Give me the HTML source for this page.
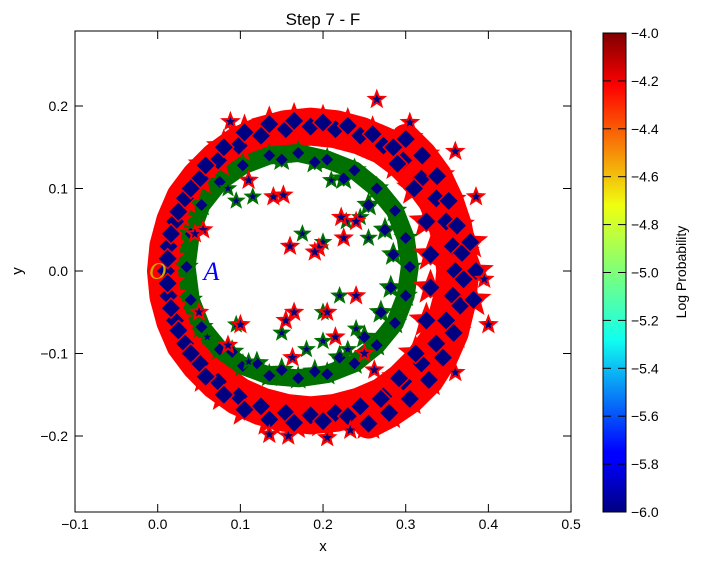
<!DOCTYPE html>
<html><head><meta charset="utf-8"><style>
body{margin:0;background:#fff;}
svg{display:block;font-family:"Liberation Sans",sans-serif;}
</style></head><body>
<svg id="chart" width="701" height="564">
<defs>
<linearGradient id="jet" x1="0" y1="1" x2="0" y2="0">
<stop offset="0" stop-color="#000080"/><stop offset="0.11" stop-color="#0000ff"/><stop offset="0.125" stop-color="#0000ff"/>
<stop offset="0.36" stop-color="#10ffef"/><stop offset="0.5" stop-color="#7dff7a"/><stop offset="0.64" stop-color="#efff0f"/>
<stop offset="0.89" stop-color="#ff0000"/><stop offset="1" stop-color="#800000"/>
</linearGradient>
<clipPath id="clip"><rect x="75" y="31" width="496" height="481"/></clipPath>
</defs>
<rect x="0" y="0" width="701" height="564" fill="#fff"/>
<text x="323" y="25" font-size="17" text-anchor="middle">Step 7 - F</text>
<g id="marks" clip-path="url(#clip)"></g>
<rect x="75" y="31" width="496" height="481" fill="none" stroke="#000" stroke-width="1"/>
<g id="axes"></g>
<text x="323" y="551" font-size="15" text-anchor="middle">x</text>
<text x="22" y="271" font-size="15" text-anchor="middle" transform="rotate(-90 22 271)">y</text>
<rect x="603" y="33" width="23" height="479" fill="url(#jet)" stroke="#000"/>
<g id="cbar"></g>
<text x="686" y="272" font-size="14" text-anchor="middle" transform="rotate(-90 686 272)">Log Probability</text>
</svg>
<script>
const xTicks=[-0.1,0,0.1,0.2,0.3,0.4,0.5];
const xTickLabels=["\u22120.1","0.0","0.1","0.2","0.3","0.4","0.5"];
const yTicks=[-0.2,-0.1,0,0.1,0.2];
const yTickLabels=["\u22120.2","\u22120.1","0.0","0.1","0.2"];
const cbTicks=[-6.0,-5.8,-5.6,-5.4,-5.2,-5.0,-4.8,-4.6,-4.4,-4.2,-4.0];
const outerRing=[[0.360,0.000],[0.357,0.030],[0.349,0.060],[0.337,0.088],[0.319,0.112],[0.297,0.134],[0.273,0.152],[0.245,0.164],[0.215,0.172],[0.185,0.175],[0.155,0.172],[0.125,0.164],[0.098,0.152],[0.073,0.134],[0.051,0.112],[0.033,0.088],[0.021,0.060],[0.013,0.030],[0.010,0.000],[0.013,-0.030],[0.021,-0.060],[0.033,-0.088],[0.051,-0.112],[0.073,-0.134],[0.098,-0.152],[0.125,-0.164],[0.155,-0.172],[0.185,-0.175],[0.215,-0.172],[0.245,-0.164],[0.273,-0.152],[0.297,-0.134],[0.319,-0.112],[0.337,-0.088],[0.349,-0.060],[0.357,-0.030],
[0.165,0.182],[0.135,0.178],[0.105,0.168],[0.080,0.150],[0.058,0.128],[0.040,0.100],[0.025,0.072],[0.016,0.045],[0.012,0.015],[0.012,-0.015],[0.016,-0.045],[0.025,-0.072],[0.040,-0.100],[0.058,-0.128],[0.080,-0.150],[0.105,-0.168],[0.135,-0.180],[0.165,-0.184],[0.200,-0.182],[0.230,-0.176],[0.200,0.180],[0.230,0.176],[0.260,0.166],[0.285,0.150]];
const rightBand=[[0.300,0.160],[0.320,0.140],[0.338,0.115],[0.352,0.085],[0.362,0.055],[0.368,0.022],[0.370,-0.010],[0.366,-0.042],[0.358,-0.075],[0.345,-0.105],[0.328,-0.132],[0.305,-0.155],[0.280,-0.172],[0.255,-0.185],[0.290,0.130],[0.310,0.100],[0.325,0.060],[0.330,0.020],[0.330,-0.020],[0.325,-0.060],[0.312,-0.100],[0.292,-0.130],[0.270,-0.155],[0.385,0.000],[0.382,-0.035],[0.378,0.035]];
const greenRing=[[0.305,0.005],[0.300,0.040],[0.287,0.073],[0.265,0.100],[0.238,0.122],[0.205,0.135],[0.170,0.143],[0.135,0.140],[0.103,0.128],[0.075,0.108],[0.053,0.080],[0.040,0.045],[0.035,0.005],[0.040,-0.035],[0.053,-0.068],[0.075,-0.095],[0.103,-0.115],[0.135,-0.127],[0.170,-0.130],[0.205,-0.125],[0.238,-0.112],[0.265,-0.090],[0.287,-0.063],[0.300,-0.030],[0.285,0.020],[0.282,-0.020],[0.275,0.050],[0.270,-0.050],[0.255,0.080],[0.250,-0.080],[0.225,0.112],[0.220,-0.105],[0.190,0.132],[0.150,0.135],[0.150,-0.120],[0.190,-0.122],[0.120,-0.112],[0.090,-0.098]];
const greenStars=[[0.085,0.100],[0.095,0.085],[0.115,0.090],[0.160,0.030],[0.175,0.045],[0.200,0.035],[0.228,0.060],[0.245,0.065],[0.220,-0.030],[0.200,-0.050],[0.240,-0.070],[0.230,-0.095],[0.180,-0.095],[0.150,-0.075],[0.110,-0.110],[0.200,-0.085],[0.095,-0.065],[0.060,-0.080],[0.210,0.110],[0.255,0.040]];
const redStars=[[0.140,0.090],[0.152,0.092],[0.110,0.110],[0.055,0.050],[0.045,0.045],[0.160,0.030],[0.195,0.028],[0.190,0.023],[0.222,0.065],[0.240,0.060],[0.225,0.040],[0.165,-0.050],[0.155,-0.060],[0.100,-0.065],[0.050,-0.050],[0.085,-0.090],[0.205,-0.050],[0.240,-0.030],[0.215,-0.080],[0.262,-0.120],[0.250,-0.100],[0.163,-0.105],[0.265,0.208],[0.400,-0.065],[0.360,-0.123],[0.385,0.090],[0.360,0.145],[0.088,0.181],[0.205,-0.202],[0.135,-0.198],[0.158,-0.200],[0.233,-0.193],[0.395,-0.010],[0.305,0.180]];
const cx=v=>157.7+v*826.7, cy=v=>271-v*825;
const NS="http://www.w3.org/2000/svg";
const marks=document.getElementById('marks'), axes=document.getElementById('axes'), cbar=document.getElementById('cbar');
function band(pts,w,color,name,closed){const d=pts.map((p,i)=>(i?"L":"M")+cx(p[0]).toFixed(1)+" "+cy(p[1]).toFixed(1)).join("")+(closed?"Z":"");const e=document.createElementNS(NS,'path');e.setAttribute('d',d);e.setAttribute('fill','none');e.setAttribute('stroke',color);e.setAttribute('stroke-width',w);e.setAttribute('stroke-linejoin','round');e.setAttribute('stroke-linecap','round');


marks.appendChild(e);}
function starPath(x,y,r){let d="";for(let i=0;i<10;i++){const a=-Math.PI/2+i*Math.PI/5;const rr=i%2?r*0.42:r;d+=(i?"L":"M")+(x+rr*Math.cos(a)).toFixed(1)+" "+(y+rr*Math.sin(a)).toFixed(1);}return d+"Z";}
function star(p,r,edge,fill,name){const e=document.createElementNS(NS,'path');e.setAttribute('d',starPath(cx(p[0]),cy(p[1]),r));e.setAttribute('fill',fill);e.setAttribute('stroke',edge);e.setAttribute('stroke-width','2');


marks.appendChild(e);}
function diamond(p,s,edge,name){const x=cx(p[0]),y=cy(p[1]);const e=document.createElementNS(NS,'path');e.setAttribute('d',`M${x} ${y-s}L${x+s} ${y}L${x} ${y+s}L${x-s} ${y}Z`);e.setAttribute('fill','#000080');e.setAttribute('stroke',edge);e.setAttribute('stroke-width','1.5');


marks.appendChild(e);}
band(outerRing.slice(0,36),38,'#ff0000','outer-ring-band',true);
band(rightBand.slice(0,14),30,'#ff0000','right-band',false);
band(greenRing.slice(0,24),18,'#007000','green-ring-band',true);
outerRing.concat(rightBand).forEach(p=>star(p,16,'#ff0000','#ff0000','outer-ring-star'));
greenRing.forEach(p=>star(p,10,'#007000','#007000','green-ring-star'));
outerRing.concat(rightBand).forEach(p=>diamond(p,10,'#ff0000','outer-ring-diamond'));
greenRing.forEach(p=>diamond(p,7,'#007000','green-ring-diamond'));
greenStars.forEach(p=>star(p,7,'#007000','#000080','green-star'));
redStars.forEach(p=>star(p,8,'#ff0000','#000080','red-star'));
function txt(parent,x,y,s,anchor,size,name){const t=document.createElementNS(NS,'text');t.setAttribute('x',x);t.setAttribute('y',y);t.setAttribute('text-anchor',anchor);t.setAttribute('font-size',size);t.textContent=s;


parent.appendChild(t);return t;}
function line(parent,x1,y1,x2,y2,name){const l=document.createElementNS(NS,'line');l.setAttribute('x1',x1);l.setAttribute('y1',y1);l.setAttribute('x2',x2);l.setAttribute('y2',y2);l.setAttribute('stroke','#000');


parent.appendChild(l);}
const o=document.createElementNS(NS,'text');o.setAttribute('x',cx(0));o.setAttribute('y',cy(0)+8);o.setAttribute('text-anchor','middle');o.setAttribute('font-size','24');o.setAttribute('font-style','italic');o.setAttribute('font-family','Liberation Serif, serif');o.setAttribute('fill','#d4a800');o.textContent='O';


marks.appendChild(o);
const a=document.createElementNS(NS,'text');a.setAttribute('x',cx(0.065));a.setAttribute('y',cy(0)+9);a.setAttribute('text-anchor','middle');a.setAttribute('font-size','26');a.setAttribute('font-style','italic');a.setAttribute('font-family','Liberation Serif, serif');a.setAttribute('fill','#0000ff');a.textContent='A';


marks.appendChild(a);
xTicks.forEach((v,i)=>{const x=cx(v);line(axes,x,512,x,504,'x-tick');line(axes,x,31,x,39,'x-tick-top');txt(axes,x,529,xTickLabels[i],'middle',14,'x-tick-label');});
yTicks.forEach((v,i)=>{const y=cy(v);line(axes,75,y,83,y,'y-tick');line(axes,571,y,563,y,'y-tick-right');txt(axes,68,y+5,yTickLabels[i],'end',14,'y-tick-label');});
cbTicks.forEach(v=>{const y=512-(v+6)/2*479;line(cbar,618,y,626,y,'colorbar-tick');line(cbar,603,y,611,y,'colorbar-tick-left');txt(cbar,631,y+5,(v<0?"\u2212":"")+Math.abs(v).toFixed(1),'start',14,'colorbar-tick-label');});
</script>
</body></html>
